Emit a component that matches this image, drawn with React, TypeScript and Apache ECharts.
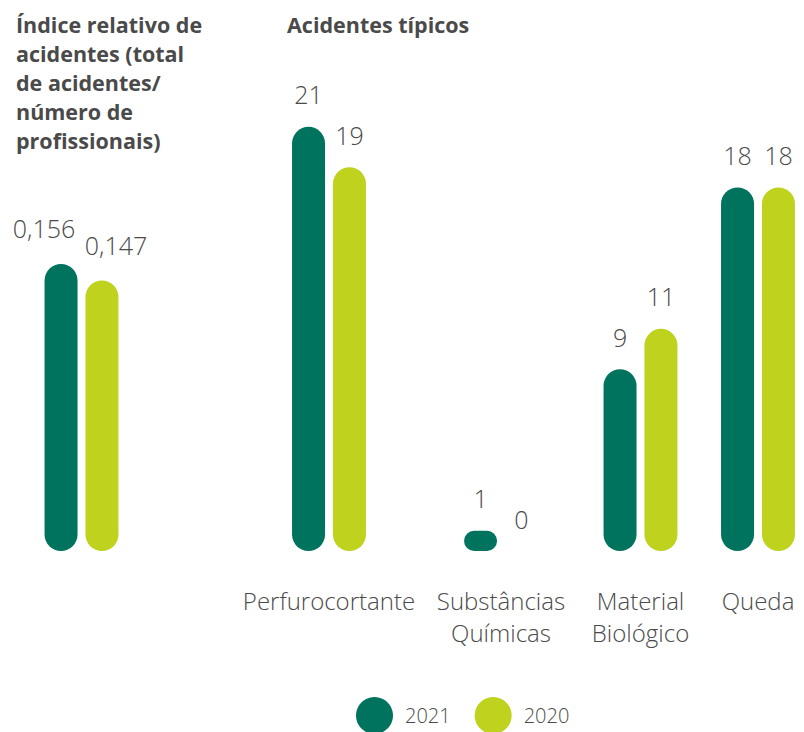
import React, { useEffect, useRef } from "react";
import * as echarts from "echarts";

const seriesNames = ["2021", "2020"];
const indexValues2021 = [0.156];
const indexValues2020 = [0.147];
const categories = ["Perfurocortante", "Substâncias\nQuímicas", "Material\nBiológico", "Queda"];
const typical2021 = [21, 1, 9, 18];
const typical2020 = [19, 0, 11, 18];
const indexTitle = "Índice relativo de\nacidentes (total\nde acidentes/\nnúmero de\nprofissionais)";
const typicalTitle = "Acidentes típicos";

const DARK = "#00735f";
const LIME = "#bed21e";
const TEXT = "#4a4a4a";
const FONT = "'Open Sans', 'Noto Sans', sans-serif";

export default function App() {
  const ref = useRef<HTMLDivElement>(null);

  useEffect(() => {
    if (!ref.current) return;
    const chart = echarts.init(ref.current, undefined, { renderer: "svg" });

    const barWidth = 33;
    const barGap = "24%";
    const baseY = 551;
    const groupCenters = [329, 501, 640.5, 758];
    const gridW = 80;

    const grids: any[] = [];
    const xAxes: any[] = [];
    const yAxes: any[] = [];
    const series: any[] = [];

    const valueLabel = (dist: number, offsetX: number, fmt?: (v: number) => string) => ({
      show: true,
      position: "top",
      distance: dist,
      offset: [offsetX, 0],
      color: TEXT,
      fontSize: 25,
      fontWeight: 300,
      fontFamily: FONT,
      formatter: (p: any) => (fmt ? fmt(p.value) : String(p.value)),
    });

    // index chart grid
    const idxMax = 0.25;
    const idxH = 460;
    grids.push({ left: 81.5 - gridW / 2, width: gridW, top: baseY - idxH, height: idxH });
    xAxes.push({
      type: "category",
      gridIndex: 0,
      data: [""],
      axisLine: { show: false },
      axisTick: { show: false },
      axisLabel: { show: false },
    });
    yAxes.push({ type: "value", gridIndex: 0, min: 0, max: idxMax, show: false, splitLine: { show: false } });
    const fmtComma = (v: number) => String(v).replace(".", ",");
    const idxOffsets = [-17, 14];
    [indexValues2021, indexValues2020].forEach((arr, si) => {
      series.push({
        type: "bar",
        name: seriesNames[si],
        xAxisIndex: 0,
        yAxisIndex: 0,
        data: arr,
        barWidth,
        barGap,
        itemStyle: { color: si === 0 ? DARK : LIME, borderRadius: barWidth / 2 },
        label: valueLabel(23, idxOffsets[si], fmtComma),
      });
    });

    // typical accidents grids
    const typMax = 25;
    const typH = typMax * 20.2;
    categories.forEach((cat, i) => {
      const gi = i + 1;
      grids.push({ left: groupCenters[i] - gridW / 2, width: gridW, top: baseY - typH, height: typH });
      xAxes.push({
        type: "category",
        gridIndex: gi,
        data: [cat],
        axisLine: { show: false },
        axisTick: { show: false },
        axisLabel: {
          show: true,
          interval: 0,
          margin: 33,
          color: TEXT,
          fontSize: 24,
          fontWeight: 300,
          fontFamily: FONT,
          lineHeight: 32,
          align: "center",
        },
      });
      yAxes.push({ type: "value", gridIndex: gi, min: 0, max: typMax, show: false, splitLine: { show: false } });
      [typical2021, typical2020].forEach((arr, si) => {
        series.push({
          type: "bar",
          name: seriesNames[si],
          xAxisIndex: gi,
          yAxisIndex: gi,
          data: [arr[i]],
          barWidth,
          barGap,
          itemStyle: { color: si === 0 ? DARK : LIME, borderRadius: barWidth / 2 },
          label: valueLabel(20, 0),
        });
      });
    });

    chart.setOption({
      animation: false,
      color: [DARK, LIME],
      title: [
        {
          text: indexTitle,
          left: 16,
          top: 10,
          padding: 0,
          textStyle: { color: TEXT, fontSize: 21.5, fontWeight: 700, fontFamily: FONT, lineHeight: 29 },
        },
        {
          text: typicalTitle,
          left: 287,
          top: 10,
          padding: 0,
          textStyle: { color: TEXT, fontSize: 21.5, fontWeight: 700, fontFamily: FONT, lineHeight: 29 },
        },
      ],
      legend: {
        data: seriesNames,
        left: 356,
        top: 697,
        padding: 0,
        icon: "circle",
        itemWidth: 37,
        itemHeight: 37,
        itemGap: 24,
        selectedMode: false,
        textStyle: { color: TEXT, fontSize: 20, fontWeight: 300, fontFamily: FONT, padding: [0, 0, 0, 7] },
      },
      grid: grids,
      xAxis: xAxes,
      yAxis: yAxes,
      series,
    });

    return () => chart.dispose();
  }, []);

  return <div ref={ref} style={{ position: "absolute", left: 0, top: 0, width: 804, height: 732 }} />;
}
